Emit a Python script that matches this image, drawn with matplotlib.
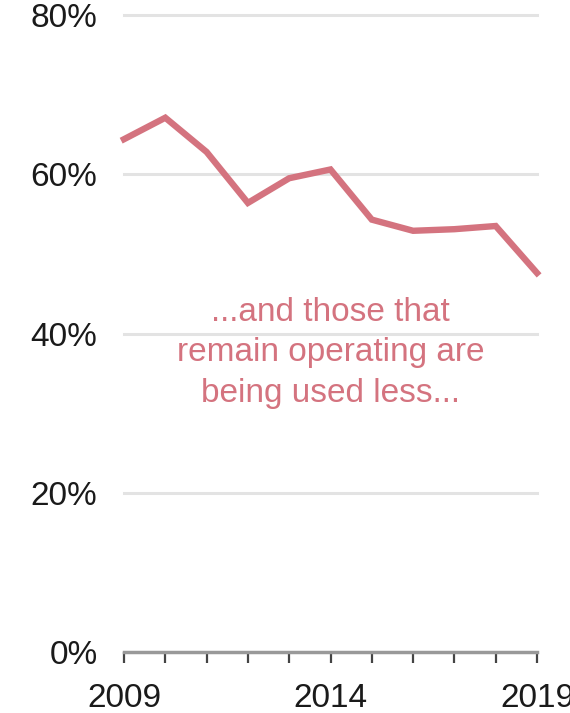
import matplotlib
matplotlib.use('Agg')
import matplotlib.pyplot as plt

# Share of capacity used, by year
years = [2009, 2010, 2011, 2012, 2013, 2014, 2015, 2016, 2017, 2018, 2019]
share = [64.4, 67.1, 62.8, 56.4, 59.5, 60.6, 54.3, 52.9, 53.1, 53.5, 47.6]
y_ticks = [0, 20, 40, 60, 80]
x_labels = [2009, 2014, 2019]
note = '...and those that\nremain operating are\nbeing used less...'

line_color = '#d4737f'
plt.rcParams['font.family'] = ['Liberation Sans', 'DejaVu Sans']

fig = plt.figure(figsize=(5.7, 7.13), dpi=100)
ax = fig.add_axes([124 / 570, 1 - 652 / 713, (537 - 124) / 570, (652 - 15) / 713])

ax.plot(years, share, color=line_color, linewidth=4.6, solid_joinstyle='miter', clip_on=False, zorder=3)

ax.set_xlim(2009, 2019)
ax.set_ylim(0, 80)

# grid lines (skip 0, that's the axis)
for v in y_ticks[1:]:
    ax.axhline(v, color='#e3e3e3', linewidth=2.2, zorder=1, clip_on=False)

ax.set_yticks(y_ticks)
ax.set_yticklabels([f'{v}%' for v in y_ticks], fontsize=24, color='#1a1a1a')
ax.tick_params(axis='y', length=0, pad=19)

ax.set_xticks(x_labels)
ax.set_xticklabels([str(v) for v in x_labels], fontsize=24, color='#1a1a1a')
ax.set_xticks(years, minor=True)
ax.tick_params(axis='x', which='both', length=8, width=1.6, color='#444444', pad=14, direction='out')

for side in ['top', 'right', 'left']:
    ax.spines[side].set_visible(False)
ax.spines['bottom'].set_color('#999999')
ax.spines['bottom'].set_linewidth(2.5)

ax.text(2014, 37.6, note, ha='center', va='center', fontsize=24, color=line_color, linespacing=1.4)

fig.savefig('out.png', dpi=100)
